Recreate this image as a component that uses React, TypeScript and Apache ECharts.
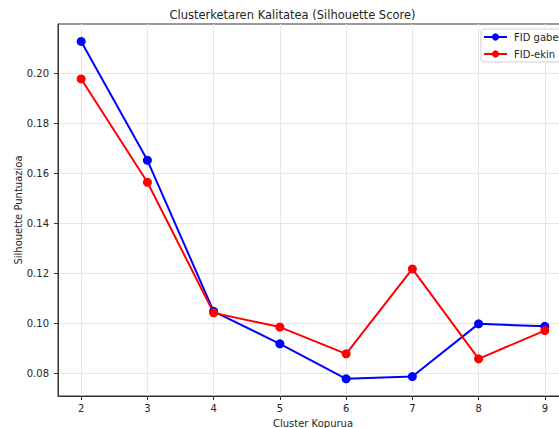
import React, { useEffect, useRef } from "react";
import * as echarts from "echarts";

const clusterCounts = [2, 3, 4, 5, 6, 7, 8, 9];
const fidGabe = [0.2128, 0.1652, 0.1047, 0.0917, 0.0777, 0.0786, 0.0997, 0.0987];
const fidEkin = [0.1978, 0.1564, 0.1041, 0.0984, 0.0877, 0.1217, 0.0857, 0.0970];
const xTicks = [2, 3, 4, 5, 6, 7, 8, 9];
const yTicks = [0.08, 0.10, 0.12, 0.14, 0.16, 0.18, 0.20];

const FONT = "DejaVu Sans";

export default function App() {
  const ref = useRef<HTMLDivElement>(null);
  useEffect(() => {
    document.body.style.margin = "0";
    const chart = echarts.init(ref.current!, null, { renderer: "svg" });
    const mk = (name: string, vals: number[], color: string) => ({
      name,
      type: "line",
      data: clusterCounts.map((c, i) => [c, vals[i]]),
      symbol: "circle",
      symbolSize: 9,
      lineStyle: { color, width: 2 },
      itemStyle: { color },
      z: 3,
    });
    chart.setOption({
      animation: false,
      backgroundColor: "#ffffff",
      graphic: [
        {
          type: "text",
          x: 292.5,
          y: 14.5,
          style: {
            text: "Clusterketaren Kalitatea (Silhouette Score)",
            textAlign: "center",
            textVerticalAlign: "middle",
            fontFamily: FONT,
            fontSize: 11.5,
            fill: "#262626",
          },
        },
      ],
      legend: {
        orient: "vertical",
        left: 481,
        top: 29,
        padding: [3, 40, 3, 2],
        itemWidth: 23,
        itemHeight: 9,
        itemGap: 7,
        backgroundColor: "rgba(255,255,255,0.85)",
        borderColor: "#d0d0d0",
        borderWidth: 1,
        borderRadius: 3,
        textStyle: { fontFamily: FONT, fontSize: 10, color: "#262626", padding: [0, 0, 0, 2] },
        data: ["FID gabe", "FID-ekin"],
      },
      grid: {
        left: 58,
        top: 24,
        width: 510,
        height: 372,
        outerBoundsMode: "none",
        containLabel: false,
        show: true,
        borderColor: "#333333",
        borderWidth: 1,
        backgroundColor: "transparent",
      },
      xAxis: {
        type: "value",
        min: 1.65,
        max: 9.35,
        name: "Cluster Kopurua",
        nameLocation: "middle",
        nameGap: 22,
        nameMoveOverlap: false,
        nameTextStyle: { fontFamily: FONT, fontSize: 10, color: "#262626" },
        axisLine: { show: true, lineStyle: { color: "#333333" } },
        axisTick: { show: true, length: 4, customValues: xTicks, lineStyle: { color: "#333333" } },
        axisLabel: {
          customValues: xTicks,
          margin: 7,
          fontFamily: FONT,
          fontSize: 10,
          color: "#262626",
        },
        splitLine: { show: true, lineStyle: { color: "#e6e6e6", width: 1 } },
      },
      yAxis: {
        type: "value",
        min: 0.0708,
        max: 0.2198,
        name: "Silhouette Puntuazioa",
        nameLocation: "middle",
        nameGap: 35,
        nameMoveOverlap: false,
        nameTextStyle: { fontFamily: FONT, fontSize: 10, color: "#262626" },
        axisLine: { show: true, lineStyle: { color: "#333333" } },
        axisTick: { show: true, length: 4, customValues: yTicks, lineStyle: { color: "#333333" } },
        axisLabel: {
          customValues: yTicks,
          margin: 9,
          fontFamily: FONT,
          fontSize: 10,
          color: "#262626",
          formatter: (v: number) => v.toFixed(2),
        },
        splitLine: { show: true, lineStyle: { color: "#e6e6e6", width: 1 } },
      },
      series: [mk("FID gabe", fidGabe, "#0000ff"), mk("FID-ekin", fidEkin, "#ff0000")],
    });
    return () => chart.dispose();
  }, []);
  return <div ref={ref} style={{ width: 559, height: 428 }} />;
}
